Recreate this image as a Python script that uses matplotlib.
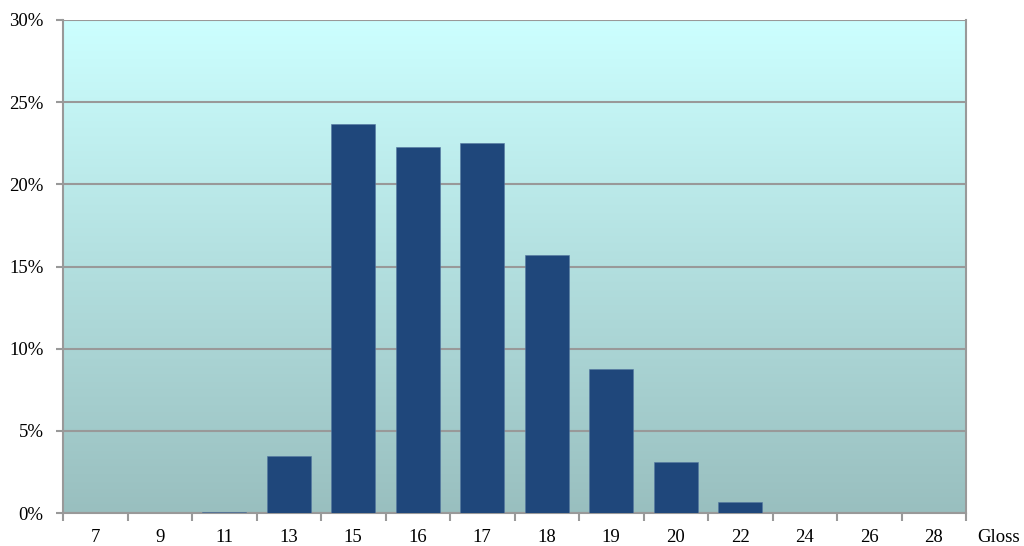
import numpy as np
import matplotlib.pyplot as plt
from matplotlib.ticker import FuncFormatter, FixedLocator

# distribution des valeurs de gloss
categories = ['7', '9', '11', '13', '15', '16', '17', '18', '19', '20', '22', '24', '26', '28']
valeurs = [0.0, 0.0, 0.05, 3.47, 23.65, 22.25, 22.5, 15.7, 8.75, 3.08, 0.69, 0.0, 0.0, 0.0]

plt.rcParams['font.family'] = ['Liberation Serif', 'DejaVu Serif']
plt.rcParams['font.size'] = 13.5

fig = plt.figure(figsize=(10.24, 5.46), dpi=100)
ax = fig.add_axes([63 / 1024, 1 - 513 / 546, (966 - 63) / 1024, (513 - 20) / 546])

n = len(categories)
x = np.arange(n)

# fond en dégradé
haut = np.array([0xcc, 0xff, 0xff]) / 255
bas = np.array([0x99, 0xbf, 0xbf]) / 255
t = np.linspace(0, 1, 256)[:, None]
grad = (haut * (1 - t) + bas * t)[:, None, :]
ax.imshow(grad, extent=[-0.5, n - 0.5, 0, 30], aspect='auto', zorder=0)

ax.bar(x, valeurs, width=0.68, color='#1f477b', edgecolor='#5577a0', linewidth=0.4, zorder=3)

ax.set_xlim(-0.5, n - 0.5)
ax.set_ylim(0, 30)
ax.set_yticks(np.arange(0, 31, 5))
ax.yaxis.set_major_formatter(FuncFormatter(lambda v, p: '%d%%' % v))
ax.grid(axis='y', color='#999999', linewidth=1.5, zorder=1)

ax.xaxis.set_major_locator(FixedLocator(np.arange(-0.5, n, 1)))
ax.xaxis.set_major_formatter(FuncFormatter(lambda v, p: ''))
ax.xaxis.set_minor_locator(FixedLocator(x))
ax.set_xticklabels(categories, minor=True)
ax.tick_params(axis='x', which='major', length=6, width=1.5, color='#999999', direction='out')
ax.tick_params(axis='x', which='minor', length=0, pad=11.5)
ax.tick_params(axis='y', length=5, width=1.5, color='#999999', pad=9)

for s in ['left', 'bottom', 'right']:
    ax.spines[s].set_color('#999999')
    ax.spines[s].set_linewidth(1.5)
ax.spines['top'].set_visible(False)

fig.text(977 / 1024, 1 - 537 / 546, 'Gloss', va='center', ha='left')

fig.savefig('out.png', dpi=100)
